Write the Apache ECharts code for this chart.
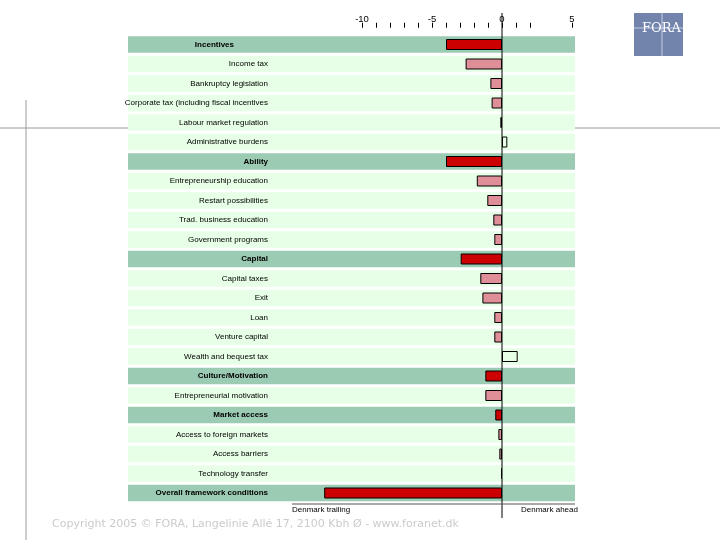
<!DOCTYPE html>
<html>
<head>
<meta charset="utf-8">
<script src="https://cdn.jsdelivr.net/npm/echarts@6/dist/echarts.min.js"></script>
<style>html,body{margin:0;padding:0;background:#fff}#c{width:720px;height:540px}</style>
</head>
<body>
<div id="c"></div>
<script>
const categories = [
  'Incentives','Income tax','Bankruptcy legislation','Corporate tax (including fiscal incentives',
  'Labour market regulation','Administrative burdens','Ability','Entrepreneurship education',
  'Restart possibilities','Trad. business education','Government programs','Capital',
  'Capital taxes','Exit','Loan','Venture capital','Wealth and bequest tax','Culture/Motivation',
  'Entrepreneurial motivation','Market access','Access to foreign markets','Access barriers',
  'Technology transfer','Overall framework conditions'
];
const isHeader = [1,0,0,0,0,0,1,0,0,0,0,1,0,0,0,0,0,1,0,1,0,0,0,1];
const values = [-4.0,-2.6,-0.83,-0.74,-0.12,0.38,-4.0,-1.8,-1.05,-0.62,-0.55,-2.95,-1.55,-1.4,-0.55,-0.55,1.12,-1.19,-1.19,-0.48,-0.26,-0.19,-0.07,-12.7];
const tickLabels = [-10,-5,0,5];
const tickValues = [-10,-9,-8,-7,-6,-5,-4,-3,-2,-1,0,1,2,5];

const chart = echarts.init(document.getElementById('c'));
const TOP = 34.75, BOTTOM = 540 - 502.75;
const option = {
  animation: false,
  grid: [
    {left: 128, right: 145, top: TOP, bottom: BOTTOM},
    {left: 320, right: 148, top: TOP, bottom: BOTTOM}
  ],
  xAxis: [
    {gridIndex: 0, type: 'value', min: 0, max: 1, show: false},
    {gridIndex: 1, type: 'value', min: -13, max: 5, position: 'top', offset: 7,
     axisLine: {show: false}, splitLine: {show: false},
     axisTick: {show: true, length: 5, customValues: tickValues, lineStyle: {color: '#000', width: 1}},
     axisLabel: {customValues: tickLabels, margin: 3, fontSize: 9.5, color: '#000', fontFamily: 'Liberation Sans'}}
  ],
  yAxis: [
    {gridIndex: 0, type: 'category', data: categories, inverse: true, show: false},
    {gridIndex: 1, type: 'category', data: categories, inverse: true, z: 20,
     axisLine: {show: false}, axisTick: {show: false}, splitLine: {show: false},
     axisLabel: {margin: 52, fontSize: 8, color: '#000', fontFamily: 'Liberation Sans',
       formatter: (v, i) => i === 0 ? '{f|' + v + '}' : (isHeader[i] ? '{b|' + v + '}' : v),
       rich: {
         b: {fontWeight: 'bold', fontSize: 8, color: '#000', fontFamily: 'Liberation Sans'},
         f: {fontWeight: 'bold', fontSize: 8, color: '#000', fontFamily: 'Liberation Sans', padding: [0, 34, 0, 0]}
       }}}
  ],
  series: [
    {type: 'bar', xAxisIndex: 0, yAxisIndex: 0, barWidth: 16.5, silent: true, z: -5,
     data: categories.map((c, i) => ({value: 1, itemStyle: {color: isHeader[i] ? '#9ccbb3' : '#e6ffe6'}}))},
    {type: 'bar', xAxisIndex: 1, yAxisIndex: 1, barWidth: 11, z: 3,
     data: values.map((v, i) => ({value: v, itemStyle: {
       color: v > 0 ? '#e6ffe6' : (isHeader[i] ? '#cc0000' : '#df8f98'),
       borderColor: '#000', borderWidth: 1}}))}
  ]
};
chart.setOption(option);
const x0 = chart.convertToPixel({xAxisIndex: 1}, 0);
chart.setOption({
  graphic: [
    {type: 'line', z: -10, shape: {x1: 0, y1: 128, x2: 720, y2: 128}, style: {stroke: '#9a9a9a', lineWidth: 1}},
    {type: 'line', z: -10, shape: {x1: 26, y1: 100, x2: 26, y2: 540}, style: {stroke: '#9a9a9a', lineWidth: 1}},
    {type: 'line', z: 100, shape: {x1: x0, y1: 13, x2: x0, y2: 518}, style: {stroke: '#000', lineWidth: 1}},
    {type: 'line', z: 100, shape: {x1: 292, y1: 504, x2: 575, y2: 504}, style: {stroke: '#555', lineWidth: 1}},
    {type: 'text', x: 292, y: 506, style: {text: 'Denmark trailing', fontSize: 8, fill: '#000', fontFamily: 'Liberation Sans'}},
    {type: 'text', x: 521, y: 506, style: {text: 'Denmark ahead', fontSize: 8, fill: '#000', fontFamily: 'Liberation Sans'}},
    {type: 'text', x: 52, y: 519, style: {text: 'Copyright 2005 \u00a9 FORA, Langelinie All\u00e9 17, 2100 Kbh \u00d8 - www.foranet.dk', fontSize: 11, fill: '#cbcbcb', fontFamily: 'DejaVu Sans', letterSpacing: 0.1}},
    {type: 'rect', shape: {x: 634, y: 13, width: 49, height: 43}, style: {fill: '#7283ac'}},
    {type: 'line', shape: {x1: 634, y1: 28, x2: 683, y2: 28}, style: {stroke: '#c4cce4', lineWidth: 1}},
    {type: 'line', shape: {x1: 662, y1: 13, x2: 662, y2: 56}, style: {stroke: '#c4cce4', lineWidth: 1}},
    {type: 'text', x: 642, y: 22, style: {text: 'FORA', fontSize: 13, fill: '#fff', fontFamily: 'DejaVu Serif', letterSpacing: 1}}
  ]
});
</script>
</body>
</html>
